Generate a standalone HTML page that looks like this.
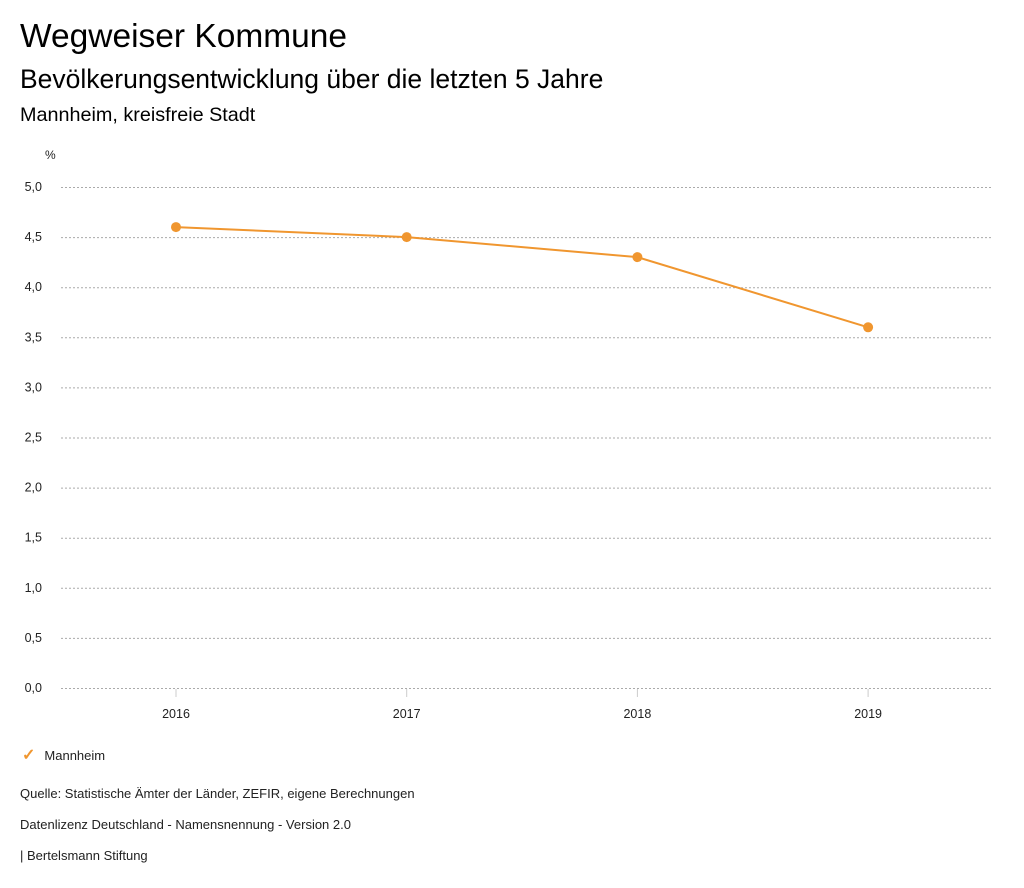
<!DOCTYPE html>
<html><head><meta charset="utf-8"><style>
body{margin:0;width:1024px;height:888px;background:#fff;font-family:"Liberation Sans",sans-serif;color:#000;position:relative;overflow:hidden}
.t{position:absolute;left:20px;white-space:nowrap}
</style></head><body>
<div class="t" style="top:18px;font-size:33.5px">Wegweiser Kommune</div>
<div class="t" style="top:64px;font-size:26.5px">Bevölkerungsentwicklung über die letzten 5 Jahre</div>
<div class="t" style="top:104px;font-size:19.8px">Mannheim, kreisfreie Stadt</div>
<svg id="chart" width="1024" height="740" style="position:absolute;left:0;top:0" font-family="Liberation Sans, sans-serif" font-size="12.5" fill="#222"></svg>
<div class="t" style="top:745px;left:22px;font-size:13px;color:#222"><span style="color:#f0962f;font-size:16px;font-weight:bold;margin-right:9px">✓</span>Mannheim</div>
<div class="t" style="top:786px;font-size:13px;color:#222">Quelle: Statistische Ämter der Länder, ZEFIR, eigene Berechnungen</div>
<div class="t" style="top:817px;font-size:13px;color:#222">Datenlizenz Deutschland - Namensnennung - Version 2.0</div>
<div class="t" style="top:848px;font-size:13px;color:#222">| Bertelsmann Stiftung</div>
<script>
const categories=["2016","2017","2018","2019"];
const values=[4.6,4.5,4.3,3.6];
const yTicks=[0,0.5,1,1.5,2,2.5,3,3.5,4,4.5,5];
const svg=document.getElementById('chart');
const NS='http://www.w3.org/2000/svg';
const y=v=>688-v*100.2;
const x=i=>176+i*230.7;
function mk(t,a){const e=document.createElementNS(NS,t);for(const k in a)e.setAttribute(k,a[k]);svg.appendChild(e);return e;}
const u=mk('text',{x:45,y:159,'font-size':12});u.textContent='%';


yTicks.forEach(v=>{
 const l=mk('line',{x1:61,x2:991,y1:y(v)+0.5,y2:y(v)+0.5,stroke:'#aaa','stroke-dasharray':'2,2'});
 
 
 const t=mk('text',{x:42,y:y(v)+4,'text-anchor':'end'});t.textContent=v.toFixed(1).replace('.',',');
 
 
});
categories.forEach((c,i)=>{
 const tk=mk('line',{x1:x(i),x2:x(i),y1:689,y2:697,stroke:'#ccc'});
 
 
 const t=mk('text',{x:x(i),y:718,'text-anchor':'middle'});t.textContent=c;
 
 
});
const p=mk('polyline',{points:values.map((v,i)=>x(i)+','+y(v)).join(' '),fill:'none',stroke:'#f0962f','stroke-width':2});


values.forEach((v,i)=>{
 const c=mk('circle',{cx:x(i),cy:y(v),r:5,fill:'#f0962f'});
 
 
});
</script>
</body></html>
